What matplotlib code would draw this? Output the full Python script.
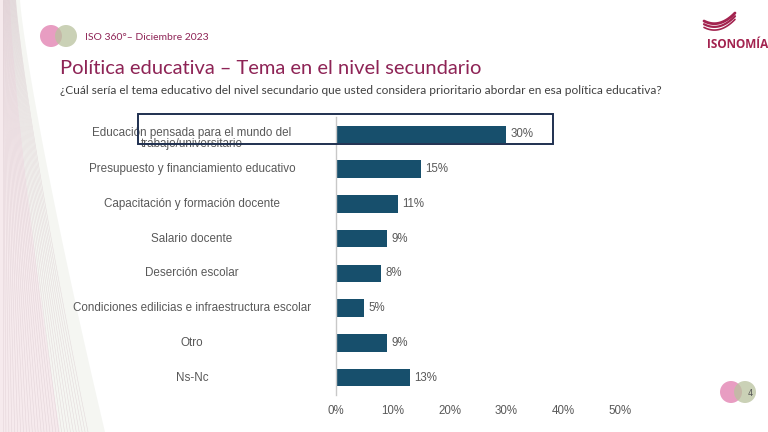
import numpy as np
import matplotlib
matplotlib.use('Agg')
import matplotlib.pyplot as plt
from matplotlib.patches import Circle, Rectangle

# data
categories = [
    "Educación pensada para el mundo del\ntrabajo/universitario",
    "Presupuesto y financiamiento educativo",
    "Capacitación y formación docente",
    "Salario docente",
    "Deserción escolar",
    "Condiciones edilicias e infraestructura escolar",
    "Otro",
    "Ns-Nc",
]
values = [30, 15, 11, 9, 8, 5, 9, 13]
xticks = [0, 10, 20, 30, 40, 50]

BAR = "#174f6c"
GRAY = "#595959"
WINE = "#8e2456"

W, H = 768, 432
fig = plt.figure(figsize=(W / 100, H / 100), dpi=100)
fig.patch.set_facecolor("white")

# background layer in pixel coordinates
bg = fig.add_axes([0, 0, 1, 1], zorder=0)
bg.set_xlim(0, W)
bg.set_ylim(H, 0)
bg.axis("off")

# soft decorative curves on the left edge
yy = np.linspace(0, H, 200)
t = yy / H
bg.fill_betweenx(yy, 0, 10 + 50 * t ** 1.3, color="#e6c3cd", alpha=0.35, lw=0)
bg.fill_betweenx(yy, 10 + 50 * t ** 1.3, 20 + 85 * t ** 1.2, color="#e3e6dc",
                 alpha=0.35, lw=0)
for w in np.linspace(0, 85, 30):
    bg.plot(3 + w * (0.15 + 0.85 * t ** 1.2), yy, color="#d8c8cd", lw=0.4, alpha=0.6)

# header circles + date
bg.add_patch(Circle((51, 36), 11, color="#e48cb8", alpha=0.85, lw=0))
bg.add_patch(Circle((66, 36), 11, color="#b9c29e", alpha=0.75, lw=0))
bg.text(85, 38, "ISO 360°– Diciembre 2023", color=WINE, fontsize=7.5,
        family="Lato", va="center", ha="left")

# logo swoosh + name
xs = np.linspace(0, 1, 50)
for i in range(3):
    bg.plot(704 + 31 * xs, 21 + i * 3.2 + 16 * xs * (1 - xs) - 8 * xs ** 2,
            color="#a3234f", lw=2.0 - i * 0.4, solid_capstyle="round")
bg.text(738, 44, "ISONOMÍA", color="#a3234f", fontsize=8.5, fontweight="bold",
        family="Open Sans", ha="center", va="center")

# titles
bg.text(60, 68, "Política educativa – Tema en el nivel secundario", color=WINE,
        fontsize=14.5, family="Lato", va="center", ha="left")
bg.text(60, 90, "¿Cuál sería el tema educativo del nivel secundario que usted considera "
        "prioritario abordar en esa política educativa?", color="#404040",
        fontsize=8.6, family="Lato", va="center", ha="left")

# page number circles
bg.add_patch(Circle((731, 392), 11, color="#e48cb8", alpha=0.85, lw=0))
bg.add_patch(Circle((745, 392), 11, color="#b9c29e", alpha=0.75, lw=0))
bg.text(750, 393, "4", color="#555555", fontsize=6, ha="center", va="center")

# chart
ax = fig.add_axes([336 / W, 1 - 395 / H, (620 - 336) / W, (395 - 117) / H], zorder=2)
ax.patch.set_alpha(0)
y = np.arange(len(categories))
ax.barh(y, values, height=0.5, color=BAR)
ax.set_ylim(len(categories) - 0.5, -0.5)
ax.set_xlim(0, 50)
for yi, v in zip(y, values):
    ax.text(v + 0.7, yi, f"{v}%", va="center", ha="left", color=GRAY,
            fontsize=8.3, family="Liberation Sans")
trans = ax.get_yaxis_transform()
for yi, c in zip(y, categories):
    ax.text(-0.507, yi + (0.12 if "\n" in c else 0), c, transform=trans,
            ha="center", va="center", color=GRAY, fontsize=8.4,
            family="Liberation Sans", linespacing=0.95)
ax.set_yticks([])
ax.set_xticks(xticks)
ax.set_xticklabels([f"{t}%" for t in xticks], color=GRAY, fontsize=8.3,
                   family="Liberation Sans")
ax.tick_params(axis="x", length=0, pad=7)
for s in ["top", "right", "bottom"]:
    ax.spines[s].set_visible(False)
ax.spines["left"].set_color("#c8c8c8")
ax.spines["left"].set_linewidth(1)

# highlight box around the first item, drawn over the chart
box_ax = fig.add_axes([0, 0, 1, 1], zorder=3)
box_ax.set_xlim(0, W)
box_ax.set_ylim(H, 0)
box_ax.axis("off")
box_ax.add_patch(Rectangle((138, 114), 415, 30, fill=False, ec="#1f3050", lw=1.4))

fig.savefig("out.png", dpi=100)
